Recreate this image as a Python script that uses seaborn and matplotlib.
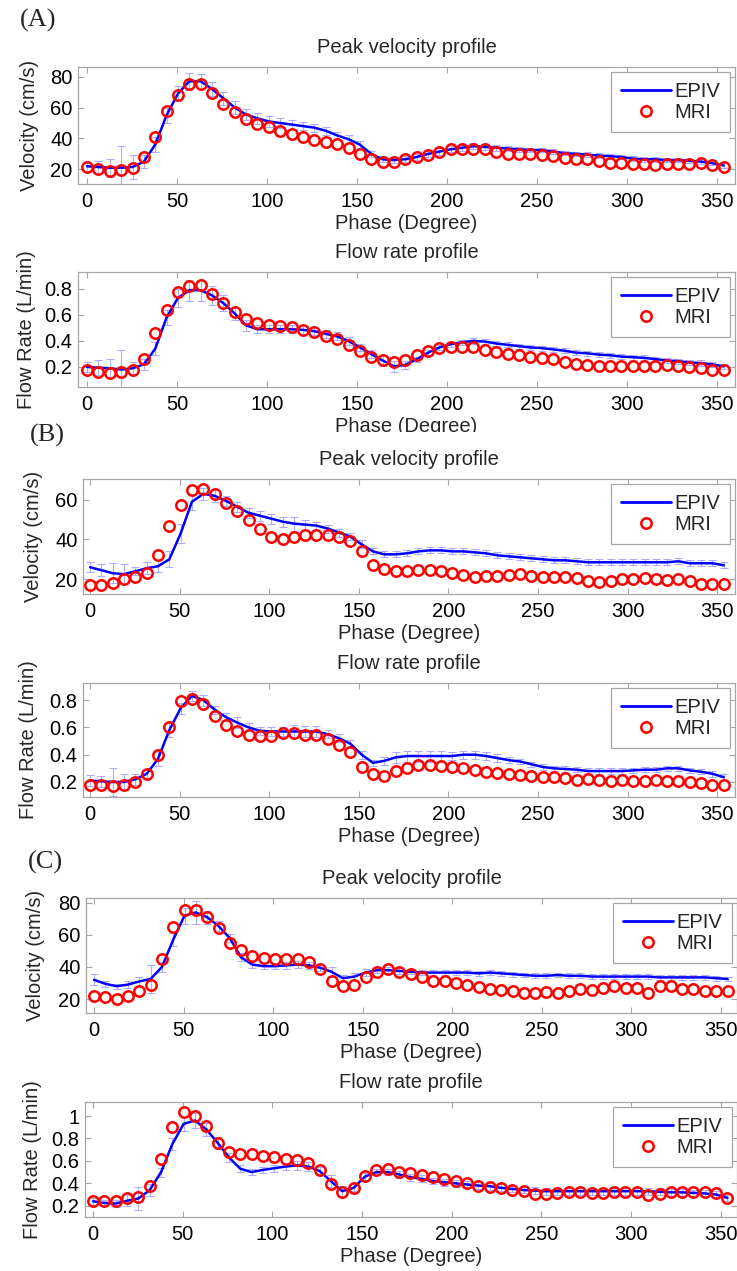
import numpy as np
import pandas as pd
import matplotlib
matplotlib.use("Agg")
import matplotlib.pyplot as plt
import seaborn as sns
from matplotlib.lines import Line2D
from matplotlib.patches import Rectangle

# phase grid (degrees), 57 samples per cycle
phase = [0.0, 6.3, 12.6, 18.9, 25.3, 31.6, 37.9, 44.2, 50.5, 56.8,
         63.2, 69.5, 75.8, 82.1, 88.4, 94.7, 101.1, 107.4, 113.7, 120.0,
         126.3, 132.6, 138.9, 145.3, 151.6, 157.9, 164.2, 170.5, 176.8, 183.2,
         189.5, 195.8, 202.1, 208.4, 214.7, 221.1, 227.4, 233.7, 240.0, 246.3,
         252.6, 258.9, 265.3, 271.6, 277.9, 284.2, 290.5, 296.8, 303.2, 309.5,
         315.8, 322.1, 328.4, 334.7, 341.1, 347.4, 353.7]

# (A) velocity
a_vel_mri = [21.5, 20, 19, 19.5, 21, 28, 41, 57.5, 68, 75,
             75, 69.5, 62.5, 57, 52.5, 49.5, 47.5, 45, 43, 41,
             39, 37.5, 36.5, 33.5, 30, 26.5, 25, 25, 26.5, 28,
             29.5, 31, 33, 33, 33, 33, 31, 30, 30, 30,
             29.5, 28.5, 27.5, 27, 26.5, 25.5, 24, 24, 23.5, 23.5,
             23, 23.5, 23.5, 23.5, 24, 22.5, 21.5]
a_vel_epiv = [22, 21.5, 21, 21, 21.5, 25, 36, 55, 69, 77,
              77, 72, 66, 60, 55.5, 53, 51, 50, 49, 48,
              47, 45, 42, 39.5, 36, 30, 26.5, 26, 26.5, 28,
              30, 31.5, 33, 34, 35, 34.5, 34, 33.5, 33, 32.5,
              32.5, 31.5, 30.5, 30, 29.5, 29, 28.5, 28, 27, 26.5,
              26.5, 26, 26, 25.5, 25, 24, 22.5]
a_vel_err = [3, 4, 6, 14, 8, 4, 5, 5, 5, 5.5,
             5, 4.5, 4, 4, 3.5, 3.5, 3.5, 3, 3, 2.5,
             2.5, 2.5, 2.5, 2.5, 2.5, 2, 2, 2, 2, 2,
             2, 2, 2, 2, 2, 2, 2, 1.5, 1.5, 1.5,
             1.5, 1.5, 1.5, 1.5, 1.5, 1.5, 1.5, 1.5, 1.5, 1.5,
             1.5, 1.5, 1.5, 1.5, 1.5, 1.5, 1.5]

# (A) flow rate
a_flow_mri = [0.18, 0.165, 0.155, 0.16, 0.18, 0.26, 0.46, 0.64, 0.78, 0.82,
              0.83, 0.76, 0.69, 0.62, 0.57, 0.535, 0.525, 0.515, 0.505, 0.485,
              0.465, 0.44, 0.415, 0.37, 0.32, 0.28, 0.255, 0.24, 0.255, 0.29,
              0.32, 0.345, 0.35, 0.355, 0.35, 0.33, 0.315, 0.3, 0.29, 0.28,
              0.27, 0.26, 0.235, 0.225, 0.215, 0.205, 0.205, 0.21, 0.21, 0.205,
              0.205, 0.215, 0.21, 0.2, 0.195, 0.175, 0.175]
a_flow_epiv = [0.2, 0.195, 0.19, 0.18, 0.19, 0.22, 0.34, 0.58, 0.73, 0.79,
               0.79, 0.75, 0.69, 0.61, 0.52, 0.49, 0.49, 0.49, 0.49, 0.485,
               0.475, 0.455, 0.435, 0.4, 0.35, 0.3, 0.25, 0.205, 0.215, 0.26,
               0.31, 0.35, 0.375, 0.39, 0.4, 0.395, 0.38, 0.37, 0.36, 0.35,
               0.345, 0.335, 0.325, 0.31, 0.305, 0.295, 0.29, 0.28, 0.275, 0.27,
               0.26, 0.25, 0.245, 0.235, 0.23, 0.22, 0.205]
a_flow_err = [0.04, 0.06, 0.07, 0.15, 0.05, 0.04, 0.05, 0.06, 0.07, 0.08,
              0.08, 0.07, 0.06, 0.05, 0.04, 0.03, 0.03, 0.03, 0.03, 0.03,
              0.03, 0.03, 0.03, 0.03, 0.03, 0.03, 0.04, 0.04, 0.03, 0.02,
              0.02, 0.02, 0.02, 0.02, 0.02, 0.02, 0.02, 0.02, 0.02, 0.02,
              0.02, 0.02, 0.02, 0.02, 0.02, 0.02, 0.02, 0.02, 0.02, 0.02,
              0.02, 0.02, 0.02, 0.02, 0.02, 0.02, 0.02]

# (B) velocity
b_vel_mri = [17, 17, 18, 20, 21, 23, 32, 47, 57.5, 65,
             65.5, 63, 58.5, 54.5, 50, 45.5, 41.5, 40, 41, 42.5,
             42.5, 42.5, 41.5, 39, 34, 27, 25, 24, 24, 24.5,
             24.5, 24, 23, 22, 21, 21.5, 21.5, 22, 22.5, 21.5,
             21, 21, 21, 20.5, 19, 18.5, 19, 20, 20, 20.5,
             20, 19.5, 20, 19, 17.5, 17.5, 17.5]
b_vel_epiv = [26, 24.5, 23, 22.5, 24, 25.5, 26.5, 30, 43, 59,
              63, 62, 59.5, 56.5, 53.5, 52, 50.5, 49, 48, 47.5,
              47, 45.5, 43.5, 41.5, 37.5, 34, 32.5, 32.5, 33, 34,
              34.5, 34.5, 34, 34, 33.5, 33, 32, 31.5, 31, 30.5,
              30, 29.5, 29.5, 29, 28.5, 28.5, 28.5, 28.5, 28.5, 28.5,
              28.5, 28.5, 29, 28, 28, 28, 27]
b_vel_err = [2.5, 3, 5, 5, 2, 3, 3, 4, 5, 4,
             3, 3, 2.5, 2.5, 2.5, 2.5, 2.5, 2.5, 3.5, 2.5,
             2, 2, 2, 2, 2, 1.5, 1.5, 1.5, 1.5, 1.5,
             1.5, 1.5, 1.5, 1.5, 1.5, 1.5, 1.5, 1.5, 1.5, 1.5,
             1.5, 1.5, 1.5, 1.5, 1.5, 1.5, 1.5, 1.5, 1.5, 1.5,
             1.5, 1.5, 1.5, 1.5, 1.5, 1.5, 1.5]

# (B) flow rate
b_flow_mri = [0.18, 0.18, 0.17, 0.18, 0.2, 0.26, 0.4, 0.6, 0.79, 0.81,
              0.77, 0.68, 0.615, 0.57, 0.545, 0.535, 0.535, 0.56, 0.56, 0.545,
              0.545, 0.515, 0.47, 0.42, 0.31, 0.255, 0.245, 0.28, 0.305, 0.325,
              0.325, 0.315, 0.31, 0.3, 0.285, 0.275, 0.265, 0.26, 0.25, 0.245,
              0.24, 0.24, 0.23, 0.215, 0.22, 0.215, 0.21, 0.215, 0.21, 0.21,
              0.215, 0.21, 0.205, 0.2, 0.195, 0.18, 0.18]
b_flow_epiv = [0.21, 0.205, 0.2, 0.2, 0.22, 0.26, 0.37, 0.58, 0.74, 0.83,
               0.8, 0.73, 0.675, 0.635, 0.6, 0.575, 0.57, 0.57, 0.57, 0.57,
               0.57, 0.55, 0.52, 0.48, 0.4, 0.34, 0.355, 0.38, 0.39, 0.39,
               0.39, 0.39, 0.39, 0.4, 0.4, 0.39, 0.375, 0.36, 0.35, 0.33,
               0.31, 0.3, 0.295, 0.29, 0.28, 0.28, 0.28, 0.28, 0.285, 0.29,
               0.29, 0.3, 0.3, 0.285, 0.275, 0.26, 0.235]
b_flow_err = [0.04, 0.04, 0.1, 0.06, 0.04, 0.03, 0.05, 0.05, 0.04, 0.04,
              0.04, 0.03, 0.03, 0.04, 0.03, 0.03, 0.03, 0.03, 0.05, 0.04,
              0.04, 0.03, 0.03, 0.03, 0.03, 0.02, 0.03, 0.04, 0.04, 0.04,
              0.04, 0.04, 0.03, 0.03, 0.03, 0.03, 0.03, 0.02, 0.02, 0.02,
              0.02, 0.02, 0.02, 0.02, 0.02, 0.02, 0.02, 0.02, 0.02, 0.02,
              0.02, 0.02, 0.02, 0.02, 0.02, 0.02, 0.02]

# (C) velocity
c_vel_mri = [22, 21.5, 20, 22, 25, 29, 45, 65, 75.5, 75.5,
             71, 64, 55, 50.5, 47, 45.5, 45, 45, 45, 43,
             38.5, 31, 28, 29, 33.5, 37, 38.5, 37, 35.5, 33.5,
             31.5, 31.5, 30, 29, 27.5, 26, 25.5, 25, 24, 23.5,
             24.5, 23.5, 25, 26, 25.5, 27, 28, 27, 27, 24,
             28, 28, 26.5, 26.5, 25, 25, 25]
c_vel_epiv = [32, 29.5, 28, 29, 31, 32.5, 40, 57, 72, 74,
              71, 65.5, 58, 46, 41.5, 40.5, 40.5, 41, 41.5, 41,
              39.5, 37, 33, 34, 36.5, 38, 38, 37.5, 37, 36.5,
              36.5, 36.5, 36.5, 36.5, 36, 36.5, 36, 35.5, 35, 34.5,
              34.5, 35, 34.5, 34.5, 34, 34, 34, 34, 34, 34,
              33.5, 33.5, 33.5, 33.5, 33.5, 33, 32.5]
c_vel_err = [3.5, 2, 1.5, 2, 3, 9, 3, 4, 5, 7,
             4, 3, 2.5, 2.5, 2, 2, 2, 2, 2, 2,
             2, 3, 2, 2, 2, 2, 2, 2, 1.5, 1.5,
             1.5, 1.5, 1.5, 1.5, 1.5, 1.5, 1.5, 1.5, 1.5, 1.5,
             1.5, 1.5, 1.5, 1.5, 1.5, 1.5, 1.5, 1.5, 1.5, 1.5,
             1.5, 1.5, 1.5, 1.5, 1.5, 1.5, 1.5]

# (C) flow rate
c_flow_mri = [0.245, 0.245, 0.245, 0.265, 0.28, 0.38, 0.62, 0.9, 1.04, 1.0,
              0.91, 0.76, 0.68, 0.66, 0.66, 0.64, 0.635, 0.615, 0.605, 0.585,
              0.52, 0.39, 0.32, 0.36, 0.465, 0.515, 0.525, 0.5, 0.49, 0.47,
              0.46, 0.44, 0.42, 0.4, 0.38, 0.37, 0.355, 0.345, 0.33, 0.305,
              0.305, 0.315, 0.32, 0.32, 0.315, 0.31, 0.32, 0.32, 0.32, 0.295,
              0.305, 0.32, 0.32, 0.32, 0.32, 0.31, 0.265]
c_flow_epiv = [0.24, 0.225, 0.22, 0.245, 0.265, 0.34, 0.5, 0.75, 0.93, 0.96,
               0.88, 0.76, 0.63, 0.53, 0.5, 0.52, 0.535, 0.55, 0.56, 0.55,
               0.51, 0.42, 0.33, 0.36, 0.46, 0.5, 0.5, 0.48, 0.455, 0.44,
               0.42, 0.41, 0.4, 0.39, 0.38, 0.375, 0.36, 0.35, 0.34, 0.335,
               0.33, 0.33, 0.33, 0.33, 0.33, 0.33, 0.33, 0.33, 0.33, 0.33,
               0.325, 0.32, 0.32, 0.315, 0.31, 0.3, 0.27]
c_flow_err = [0.03, 0.03, 0.03, 0.05, 0.1, 0.05, 0.04, 0.05, 0.06, 0.07,
              0.06, 0.05, 0.04, 0.03, 0.03, 0.03, 0.03, 0.03, 0.04, 0.04,
              0.04, 0.05, 0.05, 0.03, 0.03, 0.03, 0.03, 0.03, 0.03, 0.03,
              0.03, 0.03, 0.03, 0.03, 0.03, 0.03, 0.03, 0.03, 0.03, 0.03,
              0.03, 0.03, 0.03, 0.03, 0.03, 0.03, 0.03, 0.03, 0.03, 0.03,
              0.03, 0.03, 0.03, 0.03, 0.03, 0.03, 0.03]

vel_title = "Peak velocity profile"
flow_title = "Flow rate profile"
vel_label = "Velocity (cm/s)"
flow_label = "Flow Rate (L/min)"
x_label = "Phase (Degree)"

# Style
sns.set_style("ticks")
plt.rcParams["font.family"] = ["Liberation Sans", "DejaVu Sans"]

W, H = 737, 1271
FS = 14.5
fig = plt.figure(figsize=(W / 100, H / 100), dpi=100)

# (epiv, err, mri, title, ylabel, yticks, ylim, xlim, box px: left, right, top, bottom, ylabel centre x)
panels = [
    (a_vel_epiv, a_vel_err, a_vel_mri, vel_title, vel_label, [20, 40, 60, 80], (10.5, 86.3), (-5, 360), (78, 735, 67, 184, 28)),
    (a_flow_epiv, a_flow_err, a_flow_mri, flow_title, flow_label, [0.2, 0.4, 0.6, 0.8], (0.046, 0.93), (-5, 360), (78, 735, 272, 387, 25)),
    (b_vel_epiv, b_vel_err, b_vel_mri, vel_title, vel_label, [20, 40, 60], (12.5, 70.5), (-4, 360), (83, 735, 479, 594, 32)),
    (b_flow_epiv, b_flow_err, b_flow_mri, flow_title, flow_label, [0.2, 0.4, 0.6, 0.8], (0.09, 0.925), (-4, 360), (83, 735, 683, 797, 27)),
    (c_vel_epiv, c_vel_err, c_vel_mri, vel_title, vel_label, [20, 40, 60, 80], (11.3, 83), (-4.5, 359), (86, 737, 898, 1013, 34)),
    (c_flow_epiv, c_flow_err, c_flow_mri, flow_title, flow_label, [0.2, 0.4, 0.6, 0.8, 1.0], (0.10, 1.125), (-4.5, 359), (85, 737, 1102, 1217, 31)),
]

spine_col = "#a6a6a6"
for epiv, err, mri, title, ylab, yticks, ylim, xlim, box in panels:
    l, r, t, b, ylx = box
    ax = fig.add_axes([l / W, 1 - b / H, (r - l) / W, (b - t) / H])
    df = pd.DataFrame({"phase": phase, "epiv": epiv, "err": err, "mri": mri})

    ax.errorbar(df["phase"], df["epiv"], yerr=df["err"], fmt="none",
                ecolor="#9a9aff", elinewidth=0.8, capsize=3, capthick=0.8, alpha=0.8, zorder=1)
    sns.lineplot(data=df, x="phase", y="epiv", ax=ax, color="#0000ff", linewidth=1.8, zorder=2)
    ax.plot(df["phase"], df["mri"], linestyle="none", marker="o", markersize=7.5,
            markerfacecolor="none", markeredgecolor="#ff0000", markeredgewidth=1.8, zorder=3)

    ax.set_xlim(*xlim)
    ax.set_ylim(*ylim)
    ax.set_xticks(range(0, 351, 50))
    ax.set_yticks(yticks)
    ax.set_yticklabels(["%g" % v for v in yticks])
    ax.tick_params(direction="in", top=True, right=True, length=4, width=0.8,
                   color=spine_col, labelsize=FS, labelcolor="black")
    ax.tick_params(axis="x", pad=5.5)
    ax.tick_params(axis="y", pad=4)
    for s in ax.spines.values():
        s.set_color(spine_col)
        s.set_linewidth(0.9)
    ax.set_title(title, fontsize=FS, pad=10)
    ax.set_xlabel(x_label, fontsize=FS, labelpad=2.5)
    ax.set_ylabel(ylab, fontsize=FS)
    ax.yaxis.set_label_coords((ylx + 11 - l) / (r - l), 0.5)

    handles = [Line2D([], [], color="#0000ff", linewidth=2),
               Line2D([], [], linestyle="none", marker="o", markersize=7.5,
                      markerfacecolor="none", markeredgecolor="#ff0000", markeredgewidth=1.8)]
    leg = ax.legend(handles, ["EPIV", "MRI"], loc="upper right", bbox_to_anchor=(1.0, 1.0),
                    borderaxespad=0.25, fancybox=False, edgecolor=spine_col, framealpha=1,
                    fontsize=FS, handlelength=2.5, handletextpad=0.15, labelspacing=0.1,
                    borderpad=0.5)
    leg.get_frame().set_linewidth(0.9)

# crop edge over the bottom of panel (A) second x label
fig.patches.append(Rectangle((90 / W, 1 - 446 / H), 647 / W, 14 / H, transform=fig.transFigure,
                             facecolor="white", edgecolor="none", zorder=5))

# panel letters
for txt, x, y in [("(A)", 20, 20), ("(B)", 30, 435), ("(C)", 28, 862)]:
    fig.text(x / W, 1 - y / H, txt, fontsize=19, family=["Liberation Serif", "DejaVu Serif"],
             ha="left", va="center", zorder=6)

fig.savefig("out.png", dpi=100)
